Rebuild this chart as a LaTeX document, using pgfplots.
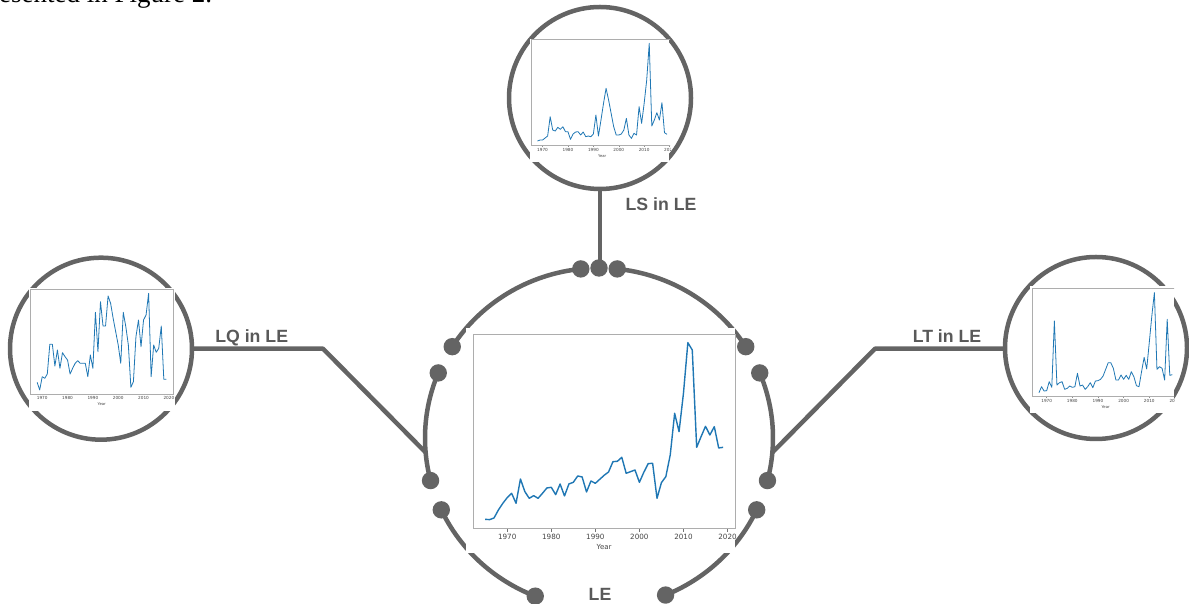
\documentclass[border=0pt]{standalone}
\usepackage{pgfplots}
\pgfplotsset{compat=1.18}
\usepackage{pgfplotstable}
\usepackage{fontspec}
\newfontfamily\dejavu{DejaVu Sans}
\newfontfamily\lsans{Liberation Sans}
\newfontfamily\lserif{Liberation Serif}
\definecolor{mplblue}{RGB}{31,119,180}
\definecolor{dgray}{RGB}{100,100,100}
\definecolor{lblgray}{RGB}{89,89,89}
\definecolor{tickgray}{RGB}{68,68,68}

\pgfplotstableread{
year v
1965 32
1966 31
1967 36
1968 60
1969 80
1970 97
1971 110
1972 80
1973 153
1974 115
1975 95
1976 103
1977 95
1978 110
1979 126
1980 128
1981 106
1982 138
1983 102
1984 138
1985 143
1986 162
1987 159
1988 114
1989 147
1990 140
1991 152
1992 164
1993 174
1994 205
1995 206
1996 218
1997 170
1998 175
1999 180
2000 143
2001 173
2002 199
2003 200
2004 95
2005 142
2006 160
2007 225
2008 350
2009 295
2010 410
2011 562
2012 540
2013 248
2014 280
2015 311
2016 285
2017 310
2018 246
2019 248
}\tableLE

\pgfplotstableread{
year v
1968 17
1969 20
1970 20
1971 26
1972 32
1973 90
1974 50
1975 47
1976 58
1977 52
1978 60
1979 45
1980 45
1981 22
1982 38
1983 44
1984 45
1985 35
1986 44
1987 30
1988 32
1989 30
1990 38
1991 95
1992 32
1993 80
1994 130
1995 175
1996 140
1997 100
1998 60
1999 35
2000 35
2001 38
2002 50
2003 85
2004 35
2005 25
2006 40
2007 35
2008 120
2009 70
2010 130
2011 200
2012 310
2013 62
2014 80
2015 102
2016 80
2017 132
2018 42
2019 37
}\tableLS

\pgfplotstableread{
year v
1968 43
1969 20
1970 60
1971 55
1972 68
1973 157
1974 157
1975 92
1976 140
1977 85
1978 132
1979 120
1980 110
1981 68
1982 85
1983 100
1984 108
1985 100
1986 100
1987 100
1988 60
1989 125
1990 85
1991 253
1992 135
1993 285
1994 212
1995 212
1996 302
1997 280
1998 235
1999 195
2000 155
2001 100
2002 253
2003 210
2004 155
2005 28
2006 45
2007 180
2008 230
2009 150
2010 230
2011 245
2012 310
2013 60
2014 155
2015 133
2016 145
2017 212
2018 52
2019 52
}\tableLQ

\pgfplotstableread{
year v
1967 17
1968 35
1969 22
1970 23
1971 50
1972 33
1973 232
1974 40
1975 47
1976 50
1977 27
1978 30
1979 37
1980 33
1981 35
1982 75
1983 37
1984 40
1985 27
1986 35
1987 47
1988 32
1989 52
1990 53
1991 57
1992 67
1993 87
1994 107
1995 107
1996 90
1997 55
1998 55
1999 70
2000 57
2001 69
2002 57
2003 80
2004 65
2005 38
2006 35
2007 80
2008 123
2009 88
2010 167
2011 247
2012 317
2013 87
2014 95
2015 90
2016 55
2017 237
2018 69
2019 71
}\tableLT

\pgfplotsset{
  chartbase/.style={
    scale only axis, anchor=south west,
    axis line style={draw=black!32, line width=0.6pt},
    ytick=\empty,
    xtick={1970,1980,1990,2000,2010,2020},
    xticklabels={1970,1980,1990,2000,2010,2020},
    xtick pos=left, tick align=outside,
    xlabel={Year},
  },
  minichart/.style={
    chartbase,
    major tick length=1.5pt,
    xtick style={draw=black!45, line width=0.4pt},
    xticklabel style={font=\dejavu\fontsize{4.2}{5}\selectfont, text=tickgray, anchor=center, yshift=-2.8pt, inner sep=0pt},
    xlabel style={font=\dejavu\fontsize{3.8}{4.5}\selectfont, text=tickgray, at={(axis description cs:0.5,-0.1)}, anchor=center, inner sep=0pt},
  },
}

\begin{document}
\begin{tikzpicture}[x=1pt,y=1pt]
\useasboundingbox (0,0) rectangle (1189,604);
\clip (0,0) rectangle (1189,604);

% cut-off caption text
\node[anchor=base west, inner sep=0pt, font=\lserif\fontsize{27}{30}\selectfont] at (-1,601) {esented in Figure 2.};

% gray structure
\begin{scope}[draw=dgray, line width=4.5pt, line join=round]
  \draw (600,506) circle[radius=91];
  \draw (101,255.3) circle[radius=91];
  \draw (1096,256) circle[radius=91];
  \draw (192,255.3) -- (323,255.3) -- (426,151.2);
  \draw (1005,255.3) -- (875,255.3) -- (772,151.2);
  \draw (600,415) -- (600,336);
  \def\ec{(599,166)}
  \draw ([shift={(84:174 and 170)}]599,166) arc[start angle=84, end angle=32.5, x radius=174, y radius=170];
  \draw ([shift={(96:174 and 170)}]599,166) arc[start angle=96, end angle=147.5, x radius=174, y radius=170];
  \draw ([shift={(157.5:174 and 170)}]599,166) arc[start angle=157.5, end angle=194.5, x radius=174, y radius=170];
  \draw ([shift={(205:174 and 170)}]599,166) arc[start angle=205, end angle=248.5, x radius=174, y radius=170];
  \draw ([shift={(-67.5:174 and 170)}]599,166) arc[start angle=-67.5, end angle=-25, x radius=174, y radius=170];
  \draw ([shift={(-14.5:174 and 170)}]599,166) arc[start angle=-14.5, end angle=22.5, x radius=174, y radius=170];
\end{scope}

% white backgrounds of the chart images
\fill[white] (466,51) rectangle (735,276);
\fill[white] (530,442) rectangle (669,565);
\fill[white] (29,193) rectangle (175,316);
\fill[white] (1030,191) rectangle (1174,318);

% centre chart: LE
\begin{axis}[chartbase,
  at={(473.3pt,75.7pt)}, width=261.7pt, height=194.3pt,
  xmin=1962.3, xmax=2021.7, ymin=5, ymax=588,
  major tick length=3.5pt,
  xtick style={draw=black!55, line width=0.6pt},
  xticklabel style={font=\dejavu\fontsize{7.2}{8}\selectfont, text=tickgray, anchor=center, yshift=-5.5pt, inner sep=0pt},
  xlabel style={font=\dejavu\fontsize{7}{8}\selectfont, text=tickgray, at={(axis description cs:0.5,-0.095)}, anchor=center, inner sep=0pt},
]
\addplot[mplblue, line width=1.4pt, line join=round] table[x=year, y=v] {\tableLE};
\end{axis}

% top chart: LS
\begin{scope}
\clip (520,430) rectangle (670,580);
\begin{axis}[minichart,
  at={(531pt,458.3pt)}, width=142.5pt, height=106.7pt,
  xmin=1965.45, xmax=2021.55, ymin=3, ymax=323,
]
\addplot[mplblue, line width=0.8pt, line join=round] table[x=year, y=v] {\tableLS};
\end{axis}
\end{scope}

% left chart: LQ
\begin{axis}[minichart,
  at={(30.7pt,210pt)}, width=142.1pt, height=105pt,
  xmin=1965.45, xmax=2021.55, ymin=8, ymax=323,
]
\addplot[mplblue, line width=0.8pt, line join=round] table[x=year, y=v] {\tableLQ};
\end{axis}

% right chart: LT
\begin{scope}
\clip (1020,180) rectangle (1174,330);
\begin{axis}[minichart,
  at={(1032.3pt,207.3pt)}, width=146.7pt, height=108.4pt,
  xmin=1964.4, xmax=2021.6, ymin=5, ymax=330,
]
\addplot[mplblue, line width=0.8pt, line join=round] table[x=year, y=v] {\tableLT};
\end{axis}
\end{scope}

% dots
\foreach \a in {84,90,96,32.5,22.5,147.5,157.5,194.5,205,248.5,-67.5,-25,-14.5} {
  \fill[dgray] ([shift={(\a:174 and 170)}]599,166) circle[radius=8.7];
}

% labels
\begin{scope}[every node/.style={inner sep=0pt, anchor=base, text=lblgray, font=\lsans\bfseries\fontsize{17.7}{20}\selectfont}]
  \node at (661,393) {LS in LE};
  \node at (251.7,261.3) {LQ in LE};
  \node at (947,261) {LT in LE};
  \node at (600,3) {LE};
\end{scope}
\end{tikzpicture}
\end{document}
